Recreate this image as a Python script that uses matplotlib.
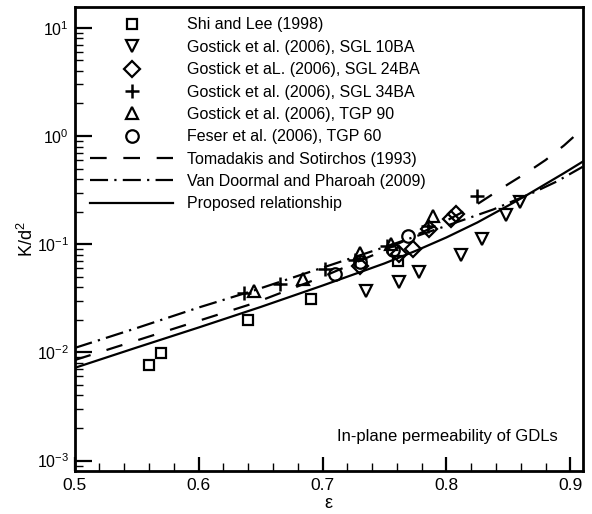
import matplotlib
matplotlib.use("Agg")
import matplotlib.pyplot as plt
from matplotlib.ticker import LogLocator, MultipleLocator, FixedLocator, NullFormatter

plt.rcParams['font.family'] = ['Liberation Sans', 'DejaVu Sans']
plt.rcParams['mathtext.default'] = 'regular'
plt.rcParams['lines.scale_dashes'] = False

# ---- data ----
shi_x = [0.560, 0.570, 0.640, 0.691, 0.761]
shi_y = [0.0076, 0.0098, 0.020, 0.031, 0.070]

sgl10_x = [0.735, 0.762, 0.778, 0.812, 0.829, 0.848, 0.859]
sgl10_y = [0.037, 0.045, 0.055, 0.080, 0.112, 0.185, 0.245]

sgl24_x = [0.730, 0.762, 0.773, 0.786, 0.804, 0.808]
sgl24_y = [0.063, 0.082, 0.090, 0.137, 0.172, 0.192]

sgl34_x = [0.637, 0.666, 0.702, 0.726, 0.752, 0.785, 0.825]
sgl34_y = [0.0355, 0.043, 0.059, 0.071, 0.097, 0.146, 0.280]

tgp90_x = [0.645, 0.684, 0.730, 0.755, 0.789]
tgp90_y = [0.037, 0.048, 0.083, 0.101, 0.183]

tgp60_x = [0.710, 0.730, 0.757, 0.769]
tgp60_y = [0.053, 0.068, 0.089, 0.118]

tom_x = [0.50, 0.55, 0.60, 0.645, 0.70, 0.75, 0.80, 0.825, 0.85, 0.865, 0.88, 0.895, 0.91]
tom_y = [0.0085, 0.0129, 0.0196, 0.0286, 0.050, 0.088, 0.165, 0.235, 0.36, 0.46, 0.60, 0.82, 1.17]

vdp_x = [0.50, 0.55, 0.60, 0.645, 0.70, 0.75, 0.80, 0.838, 0.87, 0.889, 0.91]
vdp_y = [0.0110, 0.0168, 0.026, 0.0375, 0.0607, 0.094, 0.148, 0.21, 0.30, 0.38, 0.52]

prop_x = [0.50, 0.55, 0.60, 0.65, 0.70, 0.75, 0.775, 0.80, 0.825, 0.85, 0.865, 0.88, 0.895, 0.91]
prop_y = [0.0072, 0.0111, 0.0170, 0.0263, 0.0415, 0.0665, 0.0867, 0.1156, 0.159, 0.228, 0.285, 0.36, 0.455, 0.58]

labels = ["Shi and Lee (1998)",
          "Gostick et al. (2006), SGL 10BA",
          "Gostick et aL. (2006), SGL 24BA",
          "Gostick et al. (2006), SGL 34BA",
          "Gostick et al. (2006), TGP 90",
          "Feser et al. (2006), TGP 60",
          "Tomadakis and Sotirchos (1993)",
          "Van Doormal and Pharoah (2009)",
          "Proposed relationship"]

xticks = [0.5, 0.6, 0.7, 0.8, 0.9]
yticks = [1e-3, 1e-2, 1e-1, 1e0, 1e1]
ytick_labels = ["10$^{-3}$", "10$^{-2}$", "10$^{-1}$", "10$^{0}$", "10$^{1}$"]

# ---- figure ----
fig = plt.figure(figsize=(5.92, 5.14), dpi=100)
ax = fig.add_axes([74.7/592, 1-470.7/514, (582.7-74.7)/592, (470.7-7.3)/514])

mk = dict(ls='none', mfc='none', mec='black', mew=1.6)
ax.plot(shi_x, shi_y, marker='s', ms=7.5, label=labels[0], **mk)
ax.plot(sgl10_x, sgl10_y, marker='v', ms=9, label=labels[1], **mk)
ax.plot(sgl24_x, sgl24_y, marker='D', ms=8.5, label=labels[2], **mk)
ax.plot(sgl34_x, sgl34_y, marker='+', ms=9.5, label=labels[3], ls='none', color='black', mew=1.8)
ax.plot(tgp90_x, tgp90_y, marker='^', ms=9, label=labels[4], **mk)
ax.plot(tgp60_x, tgp60_y, marker='o', ms=9, label=labels[5], **mk)
ax.plot(tom_x, tom_y, color='black', lw=1.6, ls=(0, (12, 12)), label=labels[6])
ax.plot(vdp_x, vdp_y, color='black', lw=1.6, ls=(0, (13, 4.5, 1.6, 4.5)), label=labels[7])
ax.plot(prop_x, prop_y, color='black', lw=1.6, ls='-', label=labels[8])

ax.set_yscale('log')
ax.set_xlim(0.5, 0.91)
ax.set_ylim(10**-3.093, 10**1.19)

ax.xaxis.set_major_locator(FixedLocator(xticks))
ax.set_xticklabels([f"{v:.1f}" for v in xticks])
ax.xaxis.set_minor_locator(MultipleLocator(0.02))
ax.yaxis.set_major_locator(FixedLocator(yticks))
ax.set_yticklabels(ytick_labels)
ax.yaxis.set_minor_locator(LogLocator(base=10, subs=range(2, 10), numticks=20))
ax.yaxis.set_minor_formatter(NullFormatter())

ax.tick_params(axis='x', which='major', direction='in', length=10, width=1.6, labelsize=12.5, pad=5,
               top=False)
ax.tick_params(axis='x', which='minor', direction='in', length=6, width=1.0, top=False)
ax.tick_params(axis='y', which='major', direction='in', length=12, width=1.6, labelsize=11.5, pad=4,
               right=False)
ax.tick_params(axis='y', which='minor', direction='in', length=6, width=1.0, right=False)
for s in ax.spines.values():
    s.set_linewidth(2.0)

ax.set_xlabel("ε", fontsize=13, labelpad=2)
ax.set_ylabel("K/d$^2$", fontsize=13, labelpad=0)

ax.text(0.951, 0.073, "In-plane permeability of GDLs", transform=ax.transAxes,
        ha='right', va='center', fontsize=12)

leg = ax.legend(loc='upper left', bbox_to_anchor=(90/592, 1-17.5/514),
                bbox_transform=fig.transFigure, frameon=False, fontsize=11.5,
                handlelength=5.2, handletextpad=0.9, labelspacing=0.46,
                borderpad=0, borderaxespad=0, numpoints=1)

fig.savefig("out.png", dpi=100)
